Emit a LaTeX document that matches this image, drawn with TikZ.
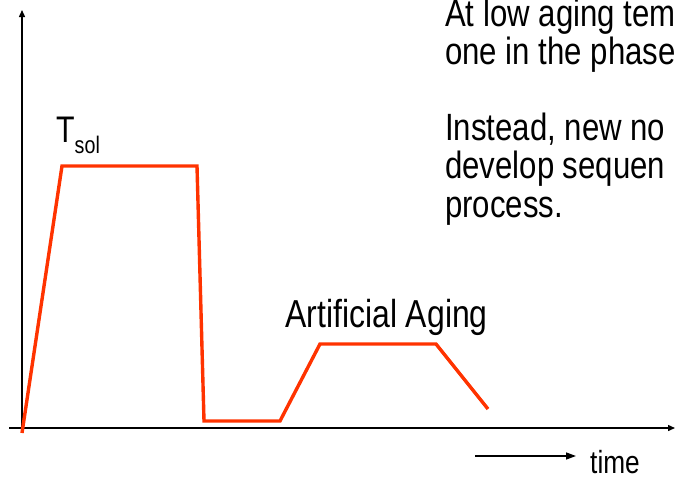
\documentclass[tikz,border=0pt]{standalone}
\usepackage{fontspec}
\usetikzlibrary{arrows.meta}
\newfontfamily\narrowsans[FakeStretch=0.82]{Liberation Sans}
\definecolor{heatred}{HTML}{FF3300}

\tikzset{
  axis/.style={line width=1.4pt, -{Triangle[length=7pt,width=6pt]}},
  cycle/.style={line width=3.4pt, color=heatred, line join=miter},
  lbl/.style={inner sep=0pt, font=\narrowsans},
  notelbl/.style={lbl, anchor=base west, font=\narrowsans\fontsize{38}{38}\selectfont}
}

\begin{document}
\begin{tikzpicture}[x=1pt,y=-1pt]
\useasboundingbox (0,0) rectangle (675,480);
% axes
\coordinate (o) at (22,428);
\coordinate (ytop) at (22,10);
\coordinate (xleft) at (9,428);
\coordinate (xright) at (675,428);
\draw[axis] (o) -- (ytop);
\draw[axis] (xleft) -- (xright);
% heat treatment path
\coordinate (p0) at (22,433);
\coordinate (p1) at (62,166);
\coordinate (p2) at (197,166);
\coordinate (p3) at (204,421);
\coordinate (p4) at (280,421);
\coordinate (p5) at (320,344);
\coordinate (p6) at (436,344);
\coordinate (p7) at (488,409);
\draw[cycle] (p0) -- (p1) -- (p2) -- (p3) -- (p4) -- (p5) -- (p6) -- (p7);
% labels
\node[lbl, anchor=base west] (tsol) at (56,142)
  {\fontsize{37}{37}\selectfont T\raisebox{-11pt}{\fontsize{24}{24}\selectfont sol}};
\node[lbl, anchor=base west] (aging) at (285,327)
  {\fontsize{39}{39}\selectfont Artificial Aging};
% text block, cut at the right edge as in the slide
\node[notelbl] (note1) at (445,26) {At low aging tem};
\node[notelbl] (note2) at (445,64) {one in the phase};
\node[notelbl] (note3) at (445,140) {Instead, new no};
\node[notelbl] (note4) at (445,178) {develop sequen};
\node[notelbl] (note5) at (445,217) {process.};
% time arrow
\coordinate (tstart) at (475,456);
\coordinate (tend) at (576,456);
\draw[line width=1.4pt, -{Triangle[length=10pt,width=7pt]}] (tstart) -- (tend);
\node[lbl, anchor=base west] (time) at (590,473)
  {\fontsize{32}{32}\selectfont time};
\end{tikzpicture}
\end{document}
